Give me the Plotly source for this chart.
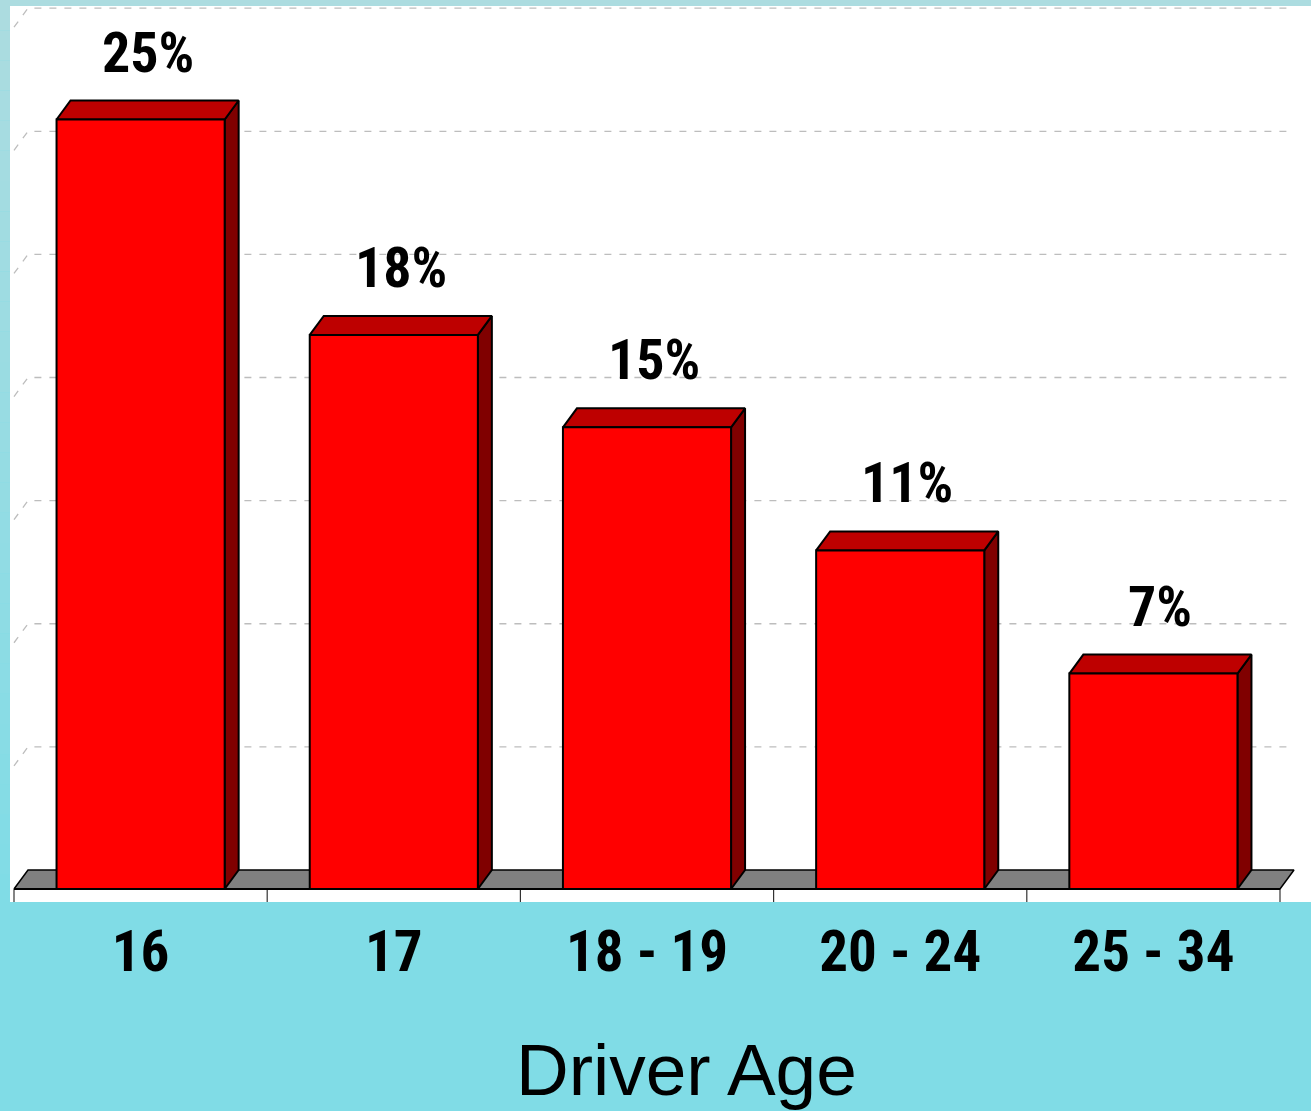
import plotly.graph_objects as go

# ---------------- data ----------------
categories = ["16", "17", "18 - 19", "20 - 24", "25 - 34"]
values = [25, 18, 15, 11, 7]
value_labels = ["25%", "18%", "15%", "11%", "7%"]
grid_values = [4, 8, 12, 16, 20, 24, 28]
axis_title = "Driver Age"

# ---------------- style / geometry ----------------
W, H = 1311, 1111
M_L, M_R, M_T, M_B = 10, 0, 6, 209
PX_PER_CAT = 253.2
PX_PER_PCT = 30.78
DEPTH_X = 14 / PX_PER_CAT      # x offset of back plane (category units)
DEPTH_Y = 19 / PX_PER_PCT      # y offset of back plane (percent units)
HALF_W = 0.332                 # half bar width (category units)

plot_w = W - M_L - M_R
plot_h = H - M_T - M_B
x0 = -0.5 - 4 / PX_PER_CAT
x1 = x0 + plot_w / PX_PER_CAT
y0 = -13 / PX_PER_PCT
y1 = y0 + plot_h / PX_PER_PCT

n = len(categories)
left, right = -0.5, n - 0.5

FRONT = "#FF0000"
TOP = "#BE0000"
SIDE = "#800000"
FLOOR = "#808080"
GRID = "#BDBDBD"
BAND_CYAN = (128, 220, 230)
TOP_CYAN = (172, 220, 224)

fig = go.Figure()


def poly(xs, ys, fill, lw=2):
    fig.add_trace(go.Scatter(
        x=xs + [xs[0]], y=ys + [ys[0]], mode="lines", fill="toself",
        fillcolor=fill, line=dict(color="black", width=lw),
        hoverinfo="skip", showlegend=False))


def line(xs, ys, color, width=1, dash=None):
    fig.add_trace(go.Scatter(
        x=xs, y=ys, mode="lines",
        line=dict(color=color, width=width, dash=dash),
        hoverinfo="skip", showlegend=False))


# gridlines on back wall with diagonal on the left wall
for g in grid_values:
    line([left, left + DEPTH_X, right + DEPTH_X], [g, g + DEPTH_Y, g + DEPTH_Y],
         GRID, 1.3, "7px,8px")

# floor
poly([left, right, right + DEPTH_X, left + DEPTH_X], [0, 0, DEPTH_Y, DEPTH_Y], FLOOR, 1.5)

# category boundary lines below the floor front edge
for k in range(n + 1):
    xb = left + k
    line([xb, xb], [0, y0], "#333333", 1.2)
line([left, right], [0, 0], "black", 2)

# bars
for i, v in enumerate(values):
    xl, xr = i - HALF_W, i + HALF_W
    poly([xr, xr + DEPTH_X, xr + DEPTH_X, xr], [0, DEPTH_Y, v + DEPTH_Y, v], SIDE)
    poly([xl, xr, xr + DEPTH_X, xl + DEPTH_X], [v, v, v + DEPTH_Y, v + DEPTH_Y], TOP)
    poly([xl, xr, xr, xl], [0, 0, v, v], FRONT)

narrow = "Liberation Sans Narrow, Arial Narrow, Roboto Condensed, Liberation Sans, sans-serif"

annotations = []
for i, (v, t) in enumerate(zip(values, value_labels)):
    annotations.append(dict(
        x=i + DEPTH_X / 2, y=v + DEPTH_Y, xref="x", yref="y", text=f"<b>{t}</b>",
        showarrow=False, yanchor="bottom", yshift=13,
        font=dict(family=narrow, size=56, color="black")))

# axis title
title_px_top = 1027
annotations.append(dict(
    x=(686 - M_L) / plot_w, y=(H - M_B - title_px_top) / plot_h, xref="paper", yref="paper",
    text=axis_title, showarrow=False, xanchor="center", yanchor="top",
    font=dict(family="Liberation Sans, Arial, sans-serif", size=73, color="black")))

# background: gradient teal strips + white plot area
shapes = []
bands = 30
grad_h = 905
for b in range(bands):
    t = b / (bands - 1)
    c = tuple(round(TOP_CYAN[j] + (BAND_CYAN[j] - TOP_CYAN[j]) * t) for j in range(3))
    pa = (H - M_B - b * grad_h / bands) / plot_h
    pb = (H - M_B - (b + 1) * grad_h / bands) / plot_h
    shapes.append(dict(type="rect", xref="paper", yref="paper",
                       x0=-M_L / plot_w - 0.01, x1=1.01, y0=pb, y1=pa,
                       fillcolor=f"rgb{c}", line=dict(width=0), layer="below"))
shapes.append(dict(type="rect", xref="paper", yref="paper", x0=0, x1=1, y0=0, y1=1,
                   fillcolor="white", line=dict(width=0), layer="below"))

fig.update_layout(
    width=W, height=H,
    margin=dict(l=M_L, r=M_R, t=M_T, b=M_B, pad=0),
    paper_bgcolor="rgb(%d,%d,%d)" % BAND_CYAN,
    plot_bgcolor="rgba(0,0,0,0)",
    showlegend=False, hovermode=False,
    xaxis=dict(range=[x0, x1], showgrid=False, zeroline=False, showline=False,
               tickmode="array", tickvals=list(range(n)),
               ticktext=[f"<b>{c}</b>" for c in categories],
               ticks="", ticklabelstandoff=11, automargin=False,
               tickfont=dict(family=narrow, size=57, color="black"),
               fixedrange=True),
    yaxis=dict(range=[y0, y1], showgrid=False, zeroline=False, showline=False,
               showticklabels=False, ticks="", automargin=False, fixedrange=True),
    annotations=annotations,
    shapes=shapes,
)

fig.write_html("out.html", config={"displayModeBar": False})
